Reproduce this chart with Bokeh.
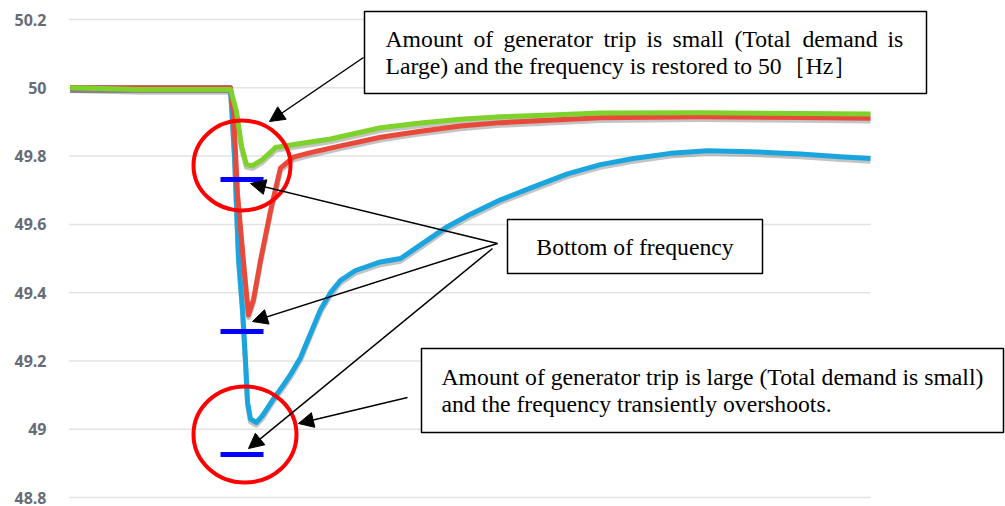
from bokeh.plotting import figure
from bokeh.models import Range1d, FixedTicker, Label, BoxAnnotation, Arrow, NormalHead, ColumnDataSource
from bokeh.transform import dodge
from bokeh.embed import file_html
from bokeh.resources import INLINE

# ---------------- data ----------------
y_ticks = [48.8, 49.0, 49.2, 49.4, 49.6, 49.8, 50.0, 50.2]
y_tick_labels = ["48.8", "49", "49.2", "49.4", "49.6", "49.8", "50", "50.2"]

green_t = [0.2, 9.0, 20.2, 20.95, 21.57, 22.19, 22.94, 24.19, 25.81, 28.93, 32.67, 38.9,
           43.89, 48.88, 53.87, 60.1, 66.33, 78.8, 91.27, 100.0]
green_v = [50.0, 49.995, 49.995, 49.93, 49.83, 49.775, 49.772, 49.79, 49.825, 49.837, 49.85,
           49.883, 49.897, 49.908, 49.915, 49.92, 49.926, 49.927, 49.925, 49.923]

red_t = [0.2, 20.2, 20.57, 21.07, 21.82, 22.44, 23.07, 23.94, 25.19, 26.43, 28.05, 30.17,
         33.92, 38.9, 43.89, 48.88, 53.87, 66.33, 78.8, 91.27, 100.0]
red_v = [50.0, 50.0, 49.93, 49.69, 49.49, 49.335, 49.38, 49.494, 49.64, 49.765, 49.797,
         49.81, 49.83, 49.855, 49.873, 49.888, 49.898, 49.912, 49.915, 49.913, 49.911]

blue_t = [0.2, 20.2, 20.7, 21.2, 21.7, 22.07, 22.32, 22.69, 23.44, 24.19, 25.44, 26.81,
          27.68, 28.93, 30.17, 31.42, 32.67, 33.92, 35.79, 38.9, 41.4, 43.89, 47.01,
          50.12, 53.87, 57.98, 62.22, 66.33, 70.45, 75.06, 79.68, 85.04, 91.27, 96.26, 100.0]
blue_v = [50.0, 50.0, 49.8, 49.5, 49.35, 49.2, 49.08, 49.03, 49.02, 49.04, 49.085, 49.13,
          49.16, 49.21, 49.28, 49.35, 49.40, 49.436, 49.465, 49.49, 49.5, 49.54, 49.59,
          49.63, 49.672, 49.71, 49.748, 49.775, 49.793, 49.808, 49.816, 49.813, 49.806,
          49.798, 49.793]

bottom_marks = [49.7315, 49.2864, 48.926]

# ------------- pixel helpers for annotation placement -------------
def X(px):
    return (px - 68) / 8.02

def Y(py):
    return 50.2 - (py - 19) / 341.5

W, H = 1005, 506
p = figure(width=W, height=H, output_backend="svg", toolbar_location=None,
           x_range=Range1d(0, (W - 68) / 8.02),
           y_range=Range1d(50.2 - (H - 19) / 341.5, 50.2 + 19 / 341.5),
           min_border_left=68, min_border_right=0, min_border_top=0, min_border_bottom=0,
           x_axis_location=None)
p.outline_line_color = None
p.grid.visible = False
p.background_fill_color = "white"

ax = p.yaxis[0]
ax.ticker = FixedTicker(ticks=y_ticks)
ax.major_label_overrides = {t: l for t, l in zip(y_ticks, y_tick_labels)}
ax.axis_line_color = None
ax.major_tick_line_color = None
ax.minor_tick_line_color = None
ax.major_label_standoff = 16
ax.major_label_text_font = "Open Sans"
ax.major_label_text_font_size = "16px"
ax.major_label_text_font_style = "bold"
ax.major_label_text_color = "#656c78"

# gridlines
p.segment(x0=[0] * len(y_ticks), x1=[100] * len(y_ticks), y0=y_ticks, y1=y_ticks,
          line_color="#e3e3e3", line_width=1.5)

series = [(blue_t, blue_v, "#1aa5df"), (red_t, red_v, "#e8493b"), (green_t, green_v, "#7fd22c")]
for t, v, c in series:
    src = ColumnDataSource(dict(t=t, v=v))
    p.line("t", dodge("v", -0.008, range=p.y_range), source=src, line_color="#555555",
           line_alpha=0.35, line_width=5, line_join="round")
for t, v, c in series:
    src = ColumnDataSource(dict(t=t, v=v))
    p.line("t", "v", source=src, line_color=c, line_width=5, line_join="round")

# bottom markers
p.segment(x0=[X(220)] * 3, x1=[X(263)] * 3, y0=bottom_marks, y1=bottom_marks,
          line_color="#0000ff", line_width=5)

# red circles
p.ellipse(x=[X(241.5), X(244.5)], y=[Y(165), Y(434)], width=[97, 103], height=[90, 96],
          width_units="screen", height_units="screen", fill_color=None,
          line_color="#ff0000", line_width=4)

# boxes
for l, r, t, b in [(364, 926, 11, 93), (507, 762, 219, 273), (421, 1003, 348, 432)]:
    p.add_layout(BoxAnnotation(left=X(l), right=X(r), top=Y(t), bottom=Y(b),
                               fill_color="white", fill_alpha=1.0,
                               line_color="black", line_width=1.5, line_alpha=1.0))

serif = "Liberation Serif"
FS = "23.7px"

def lab(px, py, text, align="left"):
    p.add_layout(Label(x=X(px), y=Y(py), text=text, text_font=serif, text_font_size=FS,
                       text_baseline="middle", text_align=align, text_color="black"))

line1_words = ["Amount", "of", "generator", "trip", "is", "small", "(Total", "demand", "is"]
line1_x = [385, 473, 503, 603, 646, 672, 734, 802, 887]
for w, xx in zip(line1_words, line1_x):
    lab(xx, 38, w)
lab(385, 65, "Large) and the frequency is restored to 50\uff3bHz\uff3d")
lab(634.5, 246, "Bottom of frequency", align="center")
lab(441, 376, "Amount of generator trip is large (Total demand is small)")
lab(441, 403, "and the frequency transiently overshoots.")

# arrows
arrows = [((363, 57), (269, 121)),
          ((497, 243), (250, 183)),
          ((497, 243), (252, 321)),
          ((492, 248), (248, 448)),
          ((407, 397), (298, 423))]
for (x0, y0), (x1, y1) in arrows:
    p.add_layout(Arrow(end=NormalHead(size=15, fill_color="black", line_color="black"),
                       x_start=X(x0), y_start=Y(y0), x_end=X(x1), y_end=Y(y1),
                       line_color="black", line_width=1.5))

open("out.html", "w").write(file_html(p, INLINE))
